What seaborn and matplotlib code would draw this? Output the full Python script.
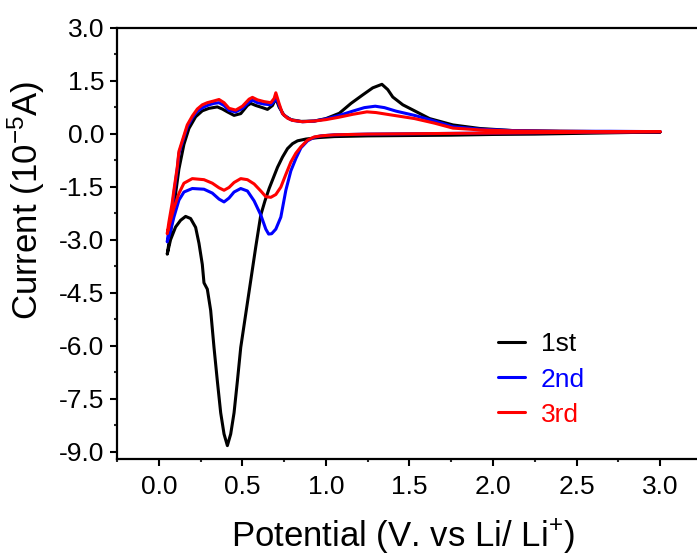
import matplotlib
matplotlib.use("Agg")
import matplotlib.pyplot as plt
import numpy as np
import pandas as pd
import seaborn as sns
from matplotlib.ticker import MultipleLocator

sns.set_theme(style="ticks")
plt.rcParams['font.family'] = ['Liberation Sans', 'DejaVu Sans']
plt.rcParams['mathtext.fontset'] = 'custom'
plt.rcParams['mathtext.rm'] = 'Liberation Sans'
plt.rcParams['mathtext.it'] = 'Liberation Sans'

# cycle labels and colours
cycles = ["1st", "2nd", "3rd"]
colors = ["black", "blue", "red"]

# 1st cycle: cathodic sweep 3.0 -> 0.05 V, then anodic back to 3.0 V
v1 = [3.00, 2.75, 2.50, 2.25, 2.00, 1.75, 1.50, 1.25, 1.05, 0.95, 0.88, 0.83,
      0.80, 0.77, 0.74, 0.71, 0.685, 0.66, 0.635, 0.61, 0.58, 0.55, 0.52, 0.49,
      0.47, 0.45, 0.43, 0.41, 0.39, 0.37, 0.35, 0.33, 0.31, 0.29, 0.27, 0.26,
      0.24, 0.22, 0.19, 0.16, 0.13, 0.10, 0.07, 0.05,
      0.06, 0.08, 0.10, 0.12, 0.15, 0.18, 0.22, 0.26, 0.30, 0.35, 0.38, 0.41,
      0.45, 0.49, 0.53, 0.55, 0.58, 0.62, 0.65, 0.68, 0.70, 0.72, 0.75, 0.79,
      0.85, 0.93, 1.00, 1.08, 1.15, 1.22, 1.28, 1.335, 1.37, 1.40, 1.46, 1.53,
      1.62, 1.76, 1.92, 2.12, 2.40, 2.70, 3.00]
i1 = [0.05, 0.03, 0.01, -0.01, -0.02, -0.04, -0.05, -0.06, -0.08, -0.11, -0.15, -0.20,
      -0.28, -0.42, -0.66, -0.95, -1.25, -1.55, -1.90, -2.30, -3.20, -4.15, -5.10, -6.05,
      -7.00, -7.90, -8.50, -8.83, -8.50, -7.90, -7.00, -6.05, -5.00, -4.40, -4.22, -3.70,
      -3.10, -2.65, -2.40, -2.34, -2.45, -2.64, -3.00, -3.41,
      -3.10, -2.45, -1.70, -1.00, -0.30, 0.15, 0.48, 0.65, 0.72, 0.76, 0.70, 0.62,
      0.52, 0.57, 0.80, 0.86, 0.80, 0.74, 0.69, 0.80, 1.00, 0.75, 0.52, 0.40,
      0.35, 0.36, 0.43, 0.58, 0.86, 1.10, 1.30, 1.40, 1.25, 1.04, 0.82, 0.65,
      0.43, 0.25, 0.15, 0.09, 0.07, 0.06, 0.05]

# 2nd cycle
v2 = [3.00, 2.75, 2.50, 2.25, 2.00, 1.75, 1.50, 1.25, 1.05, 0.97, 0.93, 0.89,
      0.85, 0.82, 0.79, 0.76, 0.73, 0.70, 0.675, 0.657, 0.64, 0.61, 0.57, 0.53,
      0.49, 0.45, 0.42, 0.39, 0.36, 0.32, 0.27, 0.20, 0.15, 0.12, 0.09, 0.07, 0.05,
      0.06, 0.08, 0.09, 0.11, 0.12, 0.15, 0.17, 0.20, 0.23, 0.27, 0.30, 0.33,
      0.36, 0.39, 0.42, 0.46, 0.50, 0.54, 0.56, 0.59, 0.63, 0.67, 0.69, 0.70,
      0.72, 0.74, 0.77, 0.80, 0.86, 0.93, 1.00, 1.08, 1.16, 1.23, 1.295, 1.35,
      1.42, 1.53, 1.65, 1.76, 1.92, 2.12, 2.40, 2.70, 3.00]
i2 = [0.06, 0.05, 0.04, 0.03, 0.02, 0.01, 0.00, -0.01, -0.03, -0.06, -0.10, -0.20,
      -0.40, -0.70, -1.05, -1.60, -2.36, -2.70, -2.83, -2.84, -2.70, -2.30, -1.90, -1.62,
      -1.55, -1.65, -1.82, -1.93, -1.85, -1.68, -1.57, -1.55, -1.65, -1.88, -2.36, -2.75, -3.06,
      -2.70, -2.10, -1.69, -1.00, -0.56, -0.10, 0.19, 0.45, 0.64, 0.76, 0.82, 0.86,
      0.88, 0.80, 0.66, 0.62, 0.72, 0.90, 0.95, 0.88, 0.84, 0.82, 0.92, 1.05,
      0.80, 0.57, 0.45, 0.38, 0.34, 0.36, 0.42, 0.52, 0.64, 0.74, 0.78, 0.74,
      0.64, 0.52, 0.36, 0.20, 0.13, 0.09, 0.07, 0.07, 0.06]

# 3rd cycle
v3 = [3.00, 2.75, 2.50, 2.25, 2.00, 1.75, 1.50, 1.25, 1.05, 0.97, 0.93, 0.89,
      0.85, 0.82, 0.79, 0.76, 0.73, 0.70, 0.67, 0.64, 0.61, 0.57, 0.53, 0.49,
      0.45, 0.42, 0.39, 0.36, 0.32, 0.27, 0.20, 0.15, 0.12, 0.09, 0.07, 0.05,
      0.06, 0.08, 0.09, 0.11, 0.12, 0.15, 0.17, 0.20, 0.23, 0.26, 0.29, 0.33,
      0.36, 0.39, 0.42, 0.46, 0.50, 0.54, 0.56, 0.59, 0.63, 0.67, 0.69, 0.70,
      0.72, 0.74, 0.77, 0.80, 0.86, 0.93, 1.00, 1.08, 1.16, 1.245, 1.30, 1.38,
      1.53, 1.65, 1.76, 1.92, 2.12, 2.40, 2.70, 3.00]
i3 = [0.06, 0.05, 0.04, 0.03, 0.02, 0.01, 0.00, -0.01, -0.03, -0.06, -0.09, -0.18,
      -0.37, -0.55, -0.80, -1.15, -1.51, -1.72, -1.80, -1.78, -1.62, -1.42, -1.30, -1.27,
      -1.38, -1.52, -1.60, -1.53, -1.40, -1.30, -1.27, -1.40, -1.69, -2.10, -2.45, -2.83,
      -2.50, -1.95, -1.60, -0.95, -0.50, -0.05, 0.25, 0.50, 0.70, 0.82, 0.88, 0.93,
      0.97, 0.88, 0.72, 0.67, 0.78, 0.98, 1.03, 0.96, 0.91, 0.88, 1.00, 1.16,
      0.85, 0.57, 0.44, 0.38, 0.34, 0.36, 0.40, 0.47, 0.55, 0.62, 0.60, 0.54,
      0.43, 0.30, 0.16, 0.11, 0.08, 0.07, 0.06, 0.06]

frames = []
for lab, v, i in zip(cycles, [v1, v2, v3], [i1, i2, i3]):
    frames.append(pd.DataFrame({"Potential": v, "Current": i, "cycle": lab}))
df = pd.concat(frames, ignore_index=True)

fig = plt.figure(figsize=(6.97, 5.56), dpi=100)
ax = fig.add_axes([0.168, 0.175, 0.839, 0.775])

sns.lineplot(data=df, x="Potential", y="Current", hue="cycle", hue_order=cycles,
             palette=colors, sort=False, estimator=None, units="cycle",
             linewidth=2.2, ax=ax)

ax.set_xlim(-0.25, 3.25)
ax.set_ylim(-9.2, 3.0)
ax.xaxis.set_major_locator(MultipleLocator(0.5))
ax.xaxis.set_minor_locator(MultipleLocator(0.25))
ax.yaxis.set_major_locator(MultipleLocator(1.5))
ax.yaxis.set_minor_locator(MultipleLocator(0.75))
ax.set_xticks(np.arange(0, 3.01, 0.5))
ax.xaxis.set_major_formatter(plt.FuncFormatter(lambda x, p: f"{x:.1f}"))
ax.yaxis.set_major_formatter(plt.FuncFormatter(lambda x, p: f"{x:.1f}"))

for s in ax.spines.values():
    s.set_linewidth(1.6)
    s.set_color("black")
ax.spines['right'].set_visible(False)
ax.tick_params(which="major", direction="out", length=5, width=1.5,
               labelsize=19, colors="black", top=False, right=False)
ax.tick_params(which="minor", direction="out", length=2.5, width=1.5,
               top=False, right=False, left=True, bottom=True)
ax.tick_params(axis="x", which="major", pad=7)
ax.tick_params(axis="y", which="major", pad=4)

ax.set_xlabel("Potential (V. vs Li/ Li$^{+}$)", fontsize=25, color="black")
ax.set_ylabel("Current (10$^{-5}$A)", fontsize=25, color="black")
ax.xaxis.set_label_coords(0.489, -0.138)
ax.yaxis.set_label_coords(-0.12, 0.60)

ax.legend(loc="upper left", bbox_to_anchor=(0.61, 0.348), frameon=False,
          fontsize=19, handlelength=1.05, handletextpad=0.6, labelspacing=0.42,
          labelcolor="linecolor")

fig.savefig("out.png", dpi=100)
